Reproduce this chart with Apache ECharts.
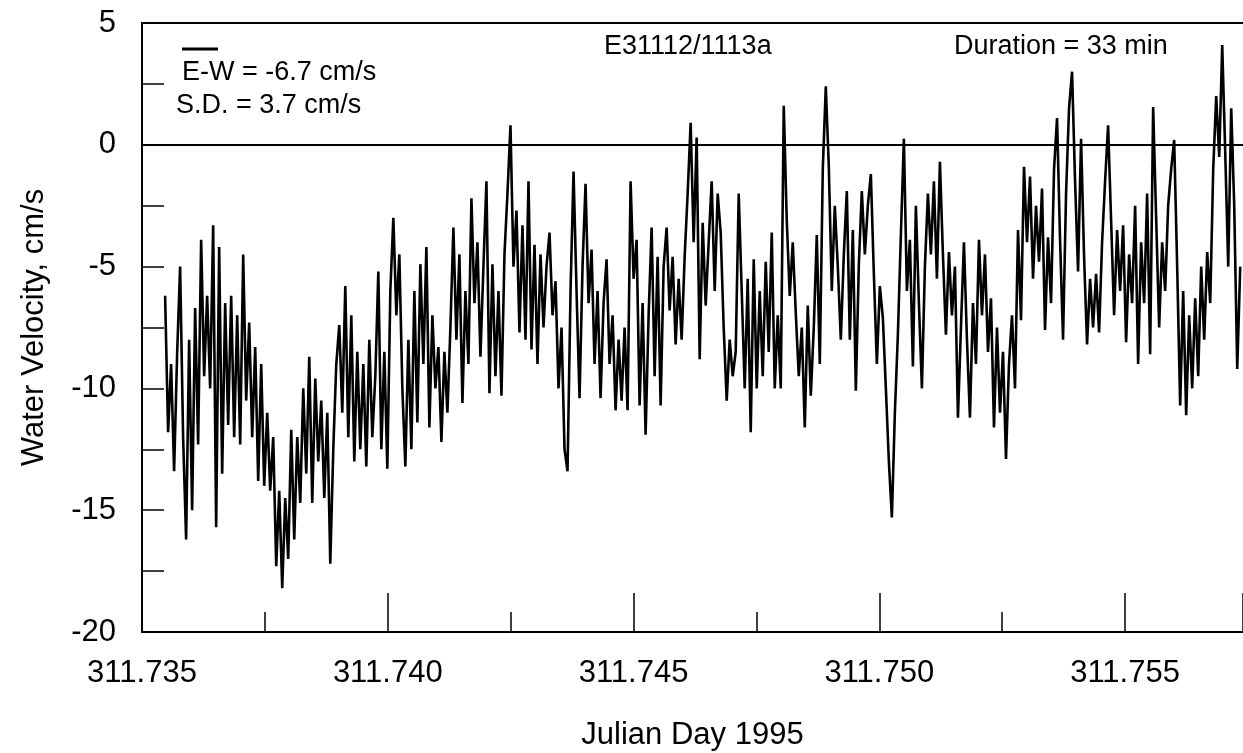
<!DOCTYPE html>
<html>
<head>
<meta charset="utf-8">
<script src="https://cdn.jsdelivr.net/npm/echarts@6/dist/echarts.min.js"></script>
<style>html,body{margin:0;padding:0;background:#fff;}#chart{width:1243px;height:753px;}</style>
</head>
<body>
<div id="chart"></div>
<script>
// Sampling of the record (Julian day)
const startDay = 311.73547;
const stepDay = 0.0000611;
const xMin = 311.735, xMax = 311.7574;
const yTicks = [-20, -15, -10, -5, 0, 5];
const xTickLabels = ['311.735', '311.740', '311.745', '311.750', '311.755'];
// East-West water velocity, cm/s
const velocity = [
-6.2,-11.8,-9.0,-13.4,-8.6,-5.0,-12.0,-16.2,-8.0,-15.0,
-6.7,-12.3,-3.9,-9.5,-6.2,-10.0,-3.3,-15.7,-4.2,-13.5,
-6.5,-11.5,-6.2,-12.0,-7.0,-12.3,-4.5,-10.5,-7.3,-12.0,
-8.3,-13.8,-9.0,-14.0,-11.0,-14.2,-12.0,-17.3,-14.2,-18.2,
-14.5,-17.0,-11.7,-16.2,-12.0,-14.7,-10.0,-13.5,-8.7,-14.7,
-9.6,-13.0,-10.5,-14.5,-11.0,-17.2,-12.5,-9.0,-7.4,-11.0,
-5.8,-12.0,-7.0,-13.0,-8.5,-12.5,-9.0,-13.2,-8.0,-12.0,
-9.5,-5.2,-12.5,-8.5,-13.3,-6.0,-3.0,-7.0,-4.5,-10.0,
-13.2,-8.0,-12.5,-6.0,-11.4,-4.9,-9.0,-4.2,-11.6,-7.0,
-10.0,-8.3,-12.2,-8.5,-11.0,-7.5,-3.4,-8.0,-4.5,-10.6,
-6.0,-9.0,-2.2,-6.5,-4.0,-8.7,-5.0,-1.5,-10.2,-4.9,
-9.5,-6.0,-10.3,-4.5,-2.0,0.8,-5.0,-2.7,-7.7,-3.3,
-8.0,-1.5,-8.4,-4.1,-9.0,-4.5,-7.5,-5.0,-3.6,-7.0,
-5.6,-10.0,-7.5,-12.5,-13.4,-6.0,-1.1,-6.0,-10.4,-5.0,
-1.6,-6.5,-4.3,-9.0,-6.0,-10.4,-6.5,-4.7,-9.0,-7.0,
-10.9,-8.0,-10.5,-7.5,-10.9,-1.5,-5.5,-3.9,-10.7,-6.5,
-11.9,-7.0,-3.4,-9.5,-4.6,-10.7,-5.0,-3.4,-6.8,-4.6,
-8.2,-5.5,-8.0,-4.6,-2.0,0.9,-4.0,0.3,-8.8,-3.2,
-6.6,-4.0,-1.5,-6.0,-2.0,-3.6,-7.5,-10.5,-8.0,-9.5,
-8.5,-2.0,-6.0,-10.0,-5.5,-11.8,-4.7,-10.0,-6.0,-9.5,
-4.8,-8.5,-3.6,-10.0,-7.0,-10.0,1.6,-3.1,-6.2,-4.0,
-6.9,-9.5,-7.5,-11.6,-6.6,-10.3,-7.5,-3.7,-9.0,-1.0,
2.4,-0.9,-6.0,-2.5,-5.0,-8.0,-4.5,-1.9,-8.0,-3.5,
-10.1,-4.9,-1.9,-4.5,-2.5,-1.2,-5.3,-9.0,-5.8,-7.1,
-10.0,-13.0,-15.3,-11.0,-7.8,-3.7,0.25,-6.0,-3.9,-9.1,
-2.5,-6.5,-10.0,-5.0,-2.0,-4.5,-1.5,-5.5,-0.7,-4.5,
-7.8,-4.4,-7.0,-5.0,-11.2,-7.5,-4.0,-8.0,-11.2,-6.5,
-9.0,-3.9,-7.0,-4.5,-8.5,-6.3,-11.6,-7.5,-11.0,-8.5,
-12.9,-9.0,-7.0,-10.0,-3.5,-7.2,-0.9,-4.0,-1.3,-5.5,
-2.5,-4.8,-1.8,-7.6,-3.8,-6.5,-1.0,1.1,-3.9,-8.0,
-2.0,1.5,3.0,-1.5,-5.2,0.25,-4.6,-8.2,-5.5,-7.5,
-5.3,-7.7,-4.0,-1.5,0.8,-3.1,-7.0,-3.5,-6.0,-3.3,
-8.1,-4.5,-6.5,-2.5,-9.0,-4.0,-6.5,-2.0,-8.6,1.55,
-3.0,-7.5,-4.0,-6.0,-2.5,-1.0,0.2,-5.0,-10.7,-6.0,
-11.1,-7.0,-10.0,-6.3,-9.5,-5.0,-8.0,-4.4,-6.5,-1.0,
2.0,-0.5,4.1,-0.3,-5.0,1.5,-2.5,-9.2,-5.0
];
const seriesData = velocity.map((v, i) => [startDay + i * stepDay, v]);

const FONT = '"Liberation Sans", Arial, sans-serif';
const chart = echarts.init(document.getElementById('chart'), null, {renderer: 'canvas'});
chart.setOption({
  animation: false,
  backgroundColor: '#fff',
  grid: {left: 142, right: 0, top: 23, bottom: 121, containLabel: false, outerBoundsMode: 'none'},
  xAxis: [{
    type: 'value', min: xMin, max: xMax, interval: 0.005,
    name: 'Julian Day 1995', nameLocation: 'middle', nameGap: 88,
    nameTextStyle: {fontFamily: FONT, fontSize: 31, color: '#000'},
    axisLine: {show: true, onZero: false, lineStyle: {color: '#000', width: 2}},
    axisTick: {show: true, inside: true, length: 39, lineStyle: {color: '#000', width: 1.5}},
    minorTick: {show: true, splitNumber: 2, length: 20, lineStyle: {color: '#000', width: 1.5}},
    splitLine: {show: false}, minorSplitLine: {show: false},
    axisLabel: {
      fontFamily: FONT, fontSize: 31, color: '#000', margin: 26, showMaxLabel: false,
      formatter: function (v) {
        const s = v.toFixed(3);
        return xTickLabels.indexOf(s) >= 0 && Math.abs(v - Number(s)) < 1e-7 ? s : '';
      }
    }
  }, {
    type: 'value', min: xMin, max: xMax, position: 'top',
    axisLine: {show: true, onZero: false, lineStyle: {color: '#000', width: 2}},
    axisTick: {show: false}, axisLabel: {show: false}, splitLine: {show: false}
  }],
  yAxis: {
    type: 'value', min: yTicks[0], max: yTicks[yTicks.length - 1], interval: 5,
    name: 'Water Velocity, cm/s', nameLocation: 'middle', nameGap: 92,
    nameTextStyle: {fontFamily: FONT, fontSize: 31, color: '#000'},
    axisLine: {show: true, onZero: false, lineStyle: {color: '#000', width: 2}},
    axisTick: {show: true, inside: true, length: 22, lineStyle: {color: '#000', width: 1.5}},
    minorTick: {show: true, splitNumber: 2, length: 22, lineStyle: {color: '#000', width: 1.5}},
    splitLine: {show: false}, minorSplitLine: {show: false},
    axisLabel: {fontFamily: FONT, fontSize: 31, color: '#000', margin: 26}
  },
  series: [{
    type: 'line', data: seriesData, showSymbol: false, symbol: 'none',
    lineStyle: {color: '#000', width: 2.6}, clip: true, silent: true,
    markLine: {
      symbol: 'none', silent: true, label: {show: false},
      lineStyle: {color: '#000', width: 2.2, type: 'solid'},
      data: [{yAxis: 0}]
    }
  }],
  graphic: [
    {type: 'line', shape: {x1: 182, y1: 49, x2: 218, y2: 49}, style: {stroke: '#000', lineWidth: 3}},
    {type: 'text', left: 182, top: 59, style: {text: 'E-W = -6.7 cm/s', font: '27px ' + FONT, fill: '#000'}},
    {type: 'text', left: 176, top: 92, style: {text: 'S.D. = 3.7 cm/s', font: '27px ' + FONT, fill: '#000'}},
    {type: 'text', left: 604, top: 33, style: {text: 'E31112/1113a', font: '27px ' + FONT, fill: '#000'}},
    {type: 'text', left: 954, top: 33, style: {text: 'Duration = 33 min', font: '27px ' + FONT, fill: '#000'}}
  ]
});
</script>
</body>
</html>
